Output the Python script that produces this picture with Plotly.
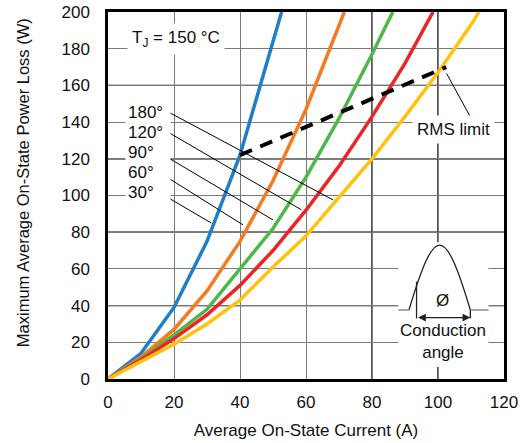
import plotly.graph_objects as go

# ---- data ----
current_30 = [0, 10, 20, 30, 40, 50, 52.6]
loss_30 = [0, 14, 39, 75, 122, 184, 200]

current_60 = [0, 10, 20, 30, 40, 50, 60, 70, 71.6]
loss_60 = [0, 12, 27, 48, 75, 108, 147, 192, 200]

current_90 = [0, 10, 20, 30, 40, 50, 60, 70, 80, 86.3]
loss_90 = [0, 11, 24, 38, 60, 82, 110, 142, 177, 200]

current_120 = [0, 10, 20, 30, 40, 50, 60, 70, 80, 90, 98.5]
loss_120 = [0, 10.5, 22, 35, 51, 70, 92, 116, 143, 172, 200]

current_180 = [0, 10, 20, 30, 40, 50, 60, 70, 80, 90, 100, 110, 112.4]
loss_180 = [0, 9.5, 19, 30, 43, 61, 78, 99, 120, 143, 167, 193, 200]

rms_current = [40, 102.5]
rms_loss = [122, 170]

angle_labels = ["180°", "120°", "90°", "60°", "30°"]
x_ticks = [0, 20, 40, 60, 80, 100, 120]
y_ticks = [0, 20, 40, 60, 80, 100, 120, 140, 160, 180, 200]

colors = {
    "30°": "#1E7EC8",
    "60°": "#F57A20",
    "90°": "#4DB748",
    "120°": "#EE2325",
    "180°": "#FFC20F",
}

FONT = "Liberation Sans, Arial, sans-serif"
FS = 17

fig = go.Figure()
series = [
    ("30°", current_30, loss_30),
    ("60°", current_60, loss_60),
    ("90°", current_90, loss_90),
    ("120°", current_120, loss_120),
    ("180°", current_180, loss_180),
]
for name, xs, ys in series:
    fig.add_trace(go.Scatter(x=xs, y=ys, mode="lines", name=name,
                             line=dict(color=colors[name], width=3.5),
                             showlegend=False, hoverinfo="skip"))

fig.add_trace(go.Scatter(x=rms_current, y=rms_loss, mode="lines", name="RMS limit",
                         line=dict(color="black", width=4, dash="13px,9px"),
                         showlegend=False, hoverinfo="skip"))

shapes = []
# darker grid lines
for yv in [40, 80, 120, 160]:
    shapes.append(dict(type="line", xref="paper", yref="y", x0=0, x1=1, y0=yv, y1=yv,
                       line=dict(color="black", width=1.3), layer="between"))
for xv in [80, 100]:
    shapes.append(dict(type="line", xref="x", yref="paper", x0=xv, x1=xv, y0=0, y1=1,
                       line=dict(color="black", width=1.3), layer="between"))
# white box for the inset drawing
shapes.append(dict(type="rect", xref="x", yref="y", x0=88.0, x1=115.3, y0=6.5, y1=74.5,
                   fillcolor="white", line=dict(width=0), layer="between"))

# inset: half-sine conduction waveform
bx0, bx1, by, peak = 91.2, 109.8, 37.6, 73.0
w = bx1 - bx0
h = peak - by
a = 0.424 * w
b = 4 * h / 3
shapes.append(dict(type="path", xref="x", yref="y",
                   path=f"M {bx0},{by} C {bx0 + a},{by + b} {bx1 - a},{by + b} {bx1},{by}",
                   line=dict(color="#222", width=1.3), layer="above"))
# firing line and extension lines
shapes.append(dict(type="line", xref="x", yref="y", x0=93.5, x1=93.5, y0=33.0, y1=53.0,
                   line=dict(color="#222", width=1.3), layer="above"))
shapes.append(dict(type="line", xref="x", yref="y", x0=bx1, x1=bx1, y0=33.0, y1=by,
                   line=dict(color="#222", width=1.3), layer="above"))
shapes.append(dict(type="line", xref="x", yref="y", x0=88.0, x1=bx0, y0=by, y1=by,
                   line=dict(color="#777", width=1.3), layer="above"))
shapes.append(dict(type="line", xref="x", yref="y", x0=bx1, x1=115.3, y0=by, y1=by,
                   line=dict(color="#777", width=1.3), layer="above"))

# leader lines from angle labels to curves
leaders = [
    (18.7, 145.1, 68.2, 97.6),
    (18.7, 134.0, 58.6, 92.2),
    (16.7, 122.2, 50.0, 86.7),
    (16.7, 111.3, 40.9, 84.0),
    (16.7, 100.4, 31.3, 85.0),
]
for x0, y0, x1, y1 in leaders:
    shapes.append(dict(type="line", xref="x", yref="y", x0=x0, y0=y0, x1=x1, y1=y1,
                       line=dict(color="black", width=1), layer="above"))
# RMS limit leader
shapes.append(dict(type="line", xref="x", yref="y", x0=102.6, y0=166.5, x1=109.6, y1=143.5,
                   line=dict(color="black", width=1), layer="above"))

annotations = []
label_y = [145.1, 134.2, 123.3, 112.4, 101.5]
for txt, yv in zip(angle_labels, label_y):
    annotations.append(dict(x=5.1, y=yv, xref="x", yref="y", text=txt, showarrow=False,
                            xanchor="left", yanchor="middle", align="left", width=40,
                            bgcolor="white", borderpad=2,
                            font=dict(family=FONT, size=FS, color="#111")))
annotations.append(dict(x=20.5, y=185.3, xref="x", yref="y",
                        text="T<sub>J</sub> = 150 °C", showarrow=False,
                        bgcolor="white", borderpad=4,
                        font=dict(family=FONT, size=FS, color="#111")))
annotations.append(dict(x=104.8, y=135.8, xref="x", yref="y", text="RMS limit",
                        showarrow=False, bgcolor="white", borderpad=4,
                        font=dict(family=FONT, size=FS, color="#111")))
annotations.append(dict(x=101.3, y=42.6, xref="x", yref="y", text="Ø", showarrow=False,
                        font=dict(family=FONT, size=FS, color="#111")))
annotations.append(dict(x=101.5, y=20.5, xref="x", yref="y", text="Conduction<br>angle",
                        showarrow=False, align="center",
                        font=dict(family=FONT, size=FS, color="#111")))
annotations.append(dict(x=bx1, y=33.5, ax=93.5, ay=33.5, xref="x", yref="y",
                        axref="x", ayref="y", text="", showarrow=True,
                        arrowhead=2, arrowside="end+start", arrowsize=1.2,
                        arrowwidth=1.3, arrowcolor="#222"))
annotations.append(dict(x=0, y=0.535, xref="paper", yref="paper", xshift=-85.5,
                        text="Maximum Average On-State Power Loss (W)", textangle=-90,
                        showarrow=False, xanchor="center", yanchor="middle",
                        font=dict(family=FONT, size=16.5, color="#111")))

fig.update_layout(
    template="none",
    width=524, height=443,
    margin=dict(l=108, r=20, t=12, b=64, autoexpand=False),
    paper_bgcolor="white", plot_bgcolor="white",
    font=dict(family=FONT, size=FS, color="#111"),
    shapes=shapes, annotations=annotations,
    xaxis=dict(range=[0, 120], tickvals=x_ticks, ticktext=[str(v) for v in x_ticks],
               showgrid=True, gridcolor="#7a7a7a", gridwidth=1.3, zeroline=False,
               showline=True, linecolor="black", linewidth=2.5, mirror=True,
               ticks="", ticklabelstandoff=6, automargin=False,
               title=dict(text="Average On-State Current (A)", standoff=13,
                          font=dict(family=FONT, size=FS, color="#111")),
               tickfont=dict(family=FONT, size=FS, color="#111")),
    yaxis=dict(range=[0, 200], tickvals=y_ticks, ticktext=[str(v) for v in y_ticks],
               showgrid=True, gridcolor="#7a7a7a", gridwidth=1.3, zeroline=False,
               showline=True, linecolor="black", linewidth=2.5, mirror=True,
               ticks="", ticklabelstandoff=12, automargin=False,
               tickfont=dict(family=FONT, size=FS, color="#111")),
)

# remove the browser's default body margin so the figure fills the window
fig.write_html("out.html", config={"displayModeBar": False},
               post_script="document.body.style.margin='0';")
